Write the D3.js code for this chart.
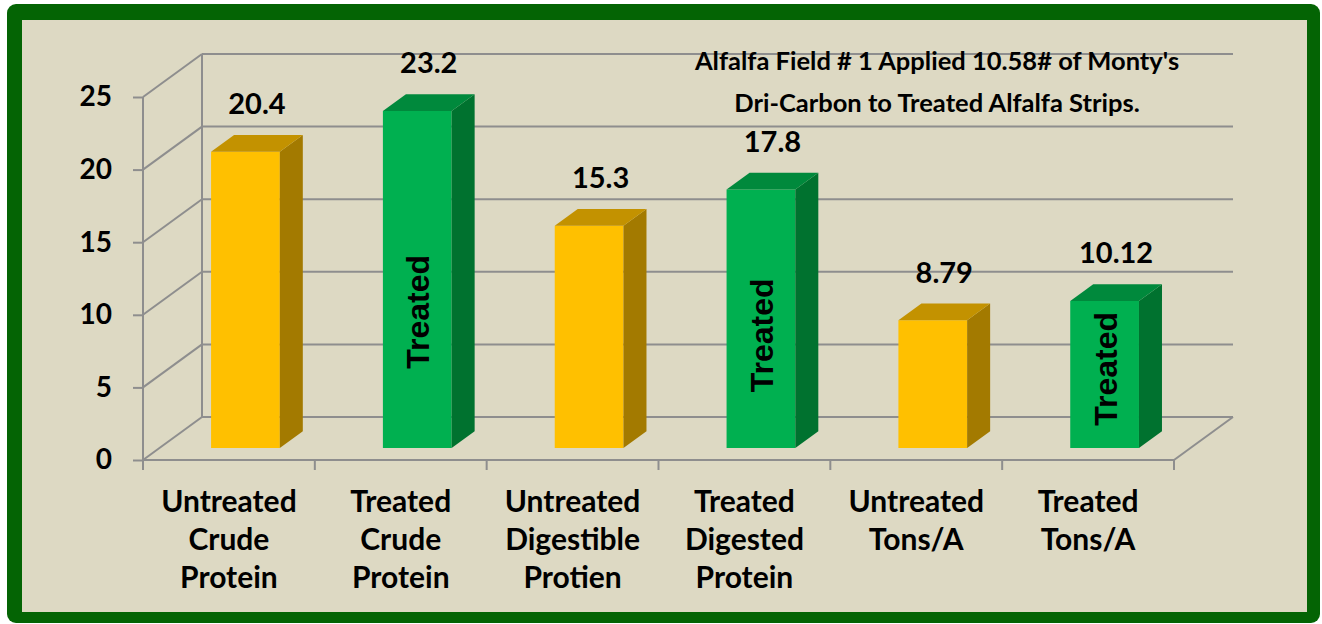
<!DOCTYPE html>
<html>
<head>
<meta charset="utf-8">
<script src="https://cdn.jsdelivr.net/npm/d3@7"></script>
<style>
  body { margin: 0; background: #ffffff; }
  svg { display: block; }
  .lbl { font-family: Lato, "Open Sans", sans-serif; font-weight: bold; fill: #000; }
  .axis text { font-family: Lato, "Open Sans", sans-serif; font-weight: bold; font-size: 28px; fill: #000; }
</style>
</head>
<body>
<svg width="1322" height="624"></svg>
<script>
// chart data
var categories = ["Untreated Crude Protein", "Treated Crude Protein", "Untreated Digestible Protien",
                  "Treated Digested Protein", "Untreated Tons/A", "Treated Tons/A"];
var values = [20.4, 23.2, 15.3, 17.8, 8.79, 10.12];
var valueLabels = ["20.4", "23.2", "15.3", "17.8", "8.79", "10.12"];
var isTreated = [false, true, false, true, false, true];
var yTicks = [0, 5, 10, 15, 20, 25];
var titleLines = ["Alfalfa Field # 1 Applied 10.58# of Monty's", "Dri-Carbon to Treated Alfalfa Strips."];

var svg = d3.select("svg");

// frame
svg.append("rect").attr("x", 7).attr("y", 4).attr("width", 1313).attr("height", 619)
    .attr("rx", 9).attr("fill", "#046404");
svg.append("rect").attr("x", 22).attr("y", 20).attr("width", 1285).attr("height", 592)
    .attr("fill", "#ddd9c3");

var left = 143, right = 1174,
    DX = 59, DY = -43;          // depth of the 3d box
var f1 = 0.28, f2 = 0.67;       // bar front / back depth

var x = d3.scaleBand().domain(categories).range([left, right]).padding(0);
var y = d3.scaleLinear().domain([0, 25]).range([460, 97]);

var g = svg.append("g");
var grid = "#8e8e8e";

// walls gridlines
yTicks.forEach(function(t) {
    g.append("line").attr("x1", left).attr("y1", y(t)).attr("x2", left + DX).attr("y2", y(t) + DY)
        .attr("stroke", grid).attr("stroke-width", 2);
    g.append("line").attr("x1", left + DX).attr("y1", y(t) + DY).attr("x2", right + DX).attr("y2", y(t) + DY)
        .attr("stroke", grid).attr("stroke-width", 2);
});
g.append("line").attr("x1", left + DX).attr("y1", y(0) + DY).attr("x2", left + DX).attr("y2", y(25) + DY)
    .attr("stroke", grid).attr("stroke-width", 2);
g.append("line").attr("x1", right).attr("y1", y(0)).attr("x2", right + DX).attr("y2", y(0) + DY)
    .attr("stroke", grid).attr("stroke-width", 2);

// y axis
var yAxis = g.append("g").attr("class", "axis")
    .attr("transform", "translate(" + left + ",0)")
    .call(d3.axisLeft(y).tickValues(yTicks).tickSize(10).tickPadding(21));
yAxis.selectAll("line, path").attr("stroke", grid).attr("stroke-width", 2);
yAxis.select(".domain").attr("d", "M0," + y(0) + "V" + y(25));

// x axis line with boundary ticks
g.append("line").attr("x1", left).attr("y1", y(0)).attr("x2", right).attr("y2", y(0))
    .attr("stroke", grid).attr("stroke-width", 2);
categories.concat([null]).forEach(function(c, i) {
    var xx = left + i * x.step();
    g.append("line").attr("x1", xx).attr("y1", y(0)).attr("x2", xx).attr("y2", y(0) + 10)
        .attr("stroke", grid).attr("stroke-width", 2);
});

// category labels
categories.forEach(function(c) {
    var t = g.append("text").attr("class", "lbl").attr("text-anchor", "middle")
        .attr("font-size", 30).attr("x", x(c) + x.bandwidth() / 2).attr("y", 512);
    c.split(" ").forEach(function(w, k) {
        t.append("tspan").attr("x", x(c) + x.bandwidth() / 2).attr("y", 512 + k * 38).text(w);
    });
});

// bars
var colors = {
    yellow: {front: "#ffc000", side: "#a37a00", top: "#c39200"},
    green: {front: "#00b050", side: "#00722f", top: "#00893c"}
};
function pt(px, v, f) { return [px + f * DX, y(v) + f * DY]; }

categories.forEach(function(c, i) {
    var v = values[i];
    var col = isTreated[i] ? colors.green : colors.yellow;
    var bw = x.bandwidth() * 0.4;
    var x0 = x(c) + (x.bandwidth() - bw) / 2, x1 = x0 + bw;
    var front = [pt(x0, 0, f1), pt(x1, 0, f1), pt(x1, v, f1), pt(x0, v, f1)];
    var side = [pt(x1, 0, f1), pt(x1, 0, f2), pt(x1, v, f2), pt(x1, v, f1)];
    var top = [pt(x0, v, f1), pt(x1, v, f1), pt(x1, v, f2), pt(x0, v, f2)];
    g.append("polygon").attr("points", front.join(" ")).attr("fill", col.front);
    g.append("polygon").attr("points", side.join(" ")).attr("fill", col.side);
    g.append("polygon").attr("points", top.join(" ")).attr("fill", col.top);

    var backTop = pt(x0, v, f2);
    var cx = (pt(x0, v, f1)[0] + pt(x1, v, f2)[0]) / 2;
    g.append("text").attr("class", "lbl").attr("text-anchor", "middle").attr("font-size", 29)
        .attr("x", cx).attr("y", backTop[1] - 21).text(valueLabels[i]);

    if (isTreated[i]) {
        var base = pt(x0, 0, f1)[1], h = base - pt(x0, v, f1)[1];
        var fx = (pt(x0, 0, f1)[0] + pt(x1, 0, f1)[0]) / 2;
        var cy = base - (0.30 * h + 35);
        g.append("text").attr("text-anchor", "middle").attr("dominant-baseline", "central")
            .attr("font-family", "'Liberation Sans', Arial, sans-serif").attr("font-weight", "bold")
            .attr("font-size", 32).attr("fill", "#000")
            .attr("transform", "translate(" + (fx + 1) + "," + cy + ") rotate(-90)")
            .text("Treated");
    }
});

// title
var title = g.append("text").attr("class", "lbl").attr("text-anchor", "middle").attr("font-size", 25.5);
titleLines.forEach(function(s, k) {
    title.append("tspan").attr("x", 937).attr("y", 70 + k * 42).text(s);
});
</script>
</body>
</html>
